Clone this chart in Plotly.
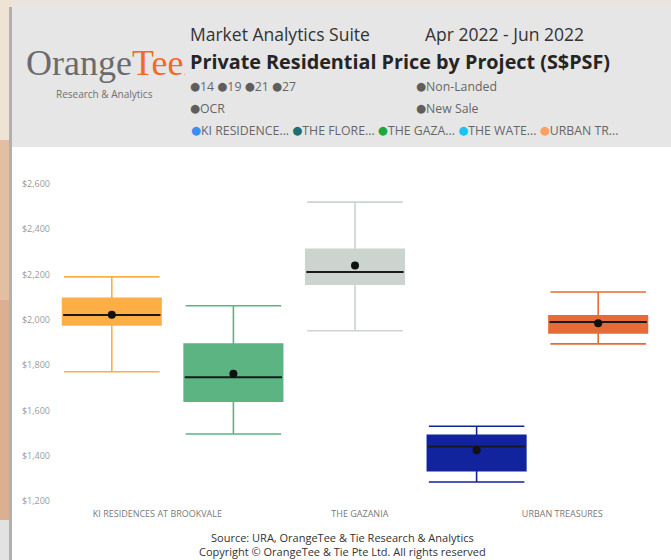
import plotly.graph_objects as go

# --- data (S$ psf) ---
PROJECTS = [
    "KI RESIDENCES AT BROOKVALE",
    "THE FLORENCE RESIDENCES",
    "THE GAZANIA",
    "THE WATERGARDENS AT CANBERRA",
    "URBAN TREASURES",
]
LOWER = [1771, 1496, 1952, 1284, 1894]
Q1 = [1977, 1641, 2158, 1334, 1942]
MEDIAN = [2021, 1747, 2211, 1441, 1990]
Q3 = [2095, 1893, 2312, 1490, 2018]
UPPER = [2190, 2062, 2520, 1530, 2123]
MEAN = [2023, 1762, 2240, 1424, 1985]

BOX_COLORS = ["#FDAE45", "#5CB483", "#CBD4CF", "#12239E", "#E66C37"]

# axis labels shown under the plot (Power BI skips every other one)
XTICK_POS = [0.375, 2.04, 3.705]
XTICK_TEXT = ["KI RESIDENCES AT BROOKVALE", "THE GAZANIA", "URBAN TREASURES"]
Y_TICKS = [1200, 1400, 1600, 1800, 2000, 2200, 2400, 2600]
Y_TICK_TEXT = [f"${v:,}" for v in Y_TICKS]

LEGEND_NAMES = ["KI RESIDENCE...", "THE FLORE...", "THE GAZA...", "THE WATE...", "URBAN TR..."]
LEGEND_COLORS = ["#3A8DF2", "#1A7072", "#1AAA3C", "#14C4F5", "#FFA15E"]

FONT = "Open Sans, Noto Sans, sans-serif"

# --- page geometry (pixels) ---
W, H = 671, 560
L, R, T, B = 51, 659, 184, 501


def px(x):
    return (x - L) / (R - L)


def py(y):
    return (B - y) / (B - T)


fig = go.Figure()

for i, name in enumerate(PROJECTS):
    c = BOX_COLORS[i]
    fig.add_trace(go.Box(
        x=[i], q1=[Q1[i]], median=[MEDIAN[i]], q3=[Q3[i]],
        lowerfence=[LOWER[i]], upperfence=[UPPER[i]],
        name=name, fillcolor=c, line=dict(color=c, width=1.6),
        width=0.81, whiskerwidth=0.97, boxpoints=False, showlegend=False,
    ))
    # black median bar drawn as a flat box on top
    fig.add_trace(go.Box(
        x=[i], q1=[MEDIAN[i]], median=[MEDIAN[i]], q3=[MEDIAN[i]],
        lowerfence=[MEDIAN[i]], upperfence=[MEDIAN[i]],
        fillcolor="rgba(0,0,0,0)", line=dict(color="#1a1a1a", width=2),
        width=0.80, whiskerwidth=0, boxpoints=False, showlegend=False,
        hoverinfo="skip",
    ))

fig.add_trace(go.Scatter(
    x=list(range(len(PROJECTS))), y=MEAN, mode="markers",
    marker=dict(color="#111111", size=8), showlegend=False,
    hovertemplate="Mean $%{y:,.0f}<extra></extra>",
))


def rect(x0, x1, y0, y1, color):
    fig.add_shape(
        type="rect", xref="paper", yref="paper",
        x0=px(x0), x1=px(x1), y0=py(y1), y1=py(y0),
        fillcolor=color, line=dict(width=0), layer="below",
    )


# blurred backdrop left and top
rect(0, 12, 0, 140, "#EFE3D6")
rect(0, 12, 140, 300, "#E3BFA2")
rect(0, 12, 300, 520, "#DBB090")
rect(0, 12, 520, 560, "#E2E2E2")
rect(12, 671, 0, 7, "#E9E4DE")
rect(9, 12, 7, 560, "#B0B0B0")
# header band
rect(12, 671, 7, 147, "#E6E6E6")

ann = []


def text(x, y, s, size, color="#333333", anchor="left", family=FONT):
    ann.append(dict(
        x=px(x), y=py(y), xref="paper", yref="paper", text=s, showarrow=False,
        xanchor=anchor, yanchor="middle", font=dict(size=size, color=color, family=family),
    ))


# logo
text(24, 63, "Orange<span style='color:#F26B22'>Tee</span><span style='color:#F26B22;font-size:9px'>.</span>",
     36, color="#6A6B6E", family="Liberation Serif, DejaVu Serif, serif")
text(104, 94, "Research &amp; Analytics", 10, color="#707070", anchor="center")

# header texts
text(188, 34, "Market Analytics Suite", 17.5, color="#333333")
text(423, 34, "Apr 2022 - Jun 2022", 17.5, color="#333333")
text(188, 62, "<b>Private Residential Price by Project (S$PSF)</b>", 19.8, color="#252525")


def dot(c="#5E5E5E"):
    return (f"<span style=\"color:{c};font-family:'DejaVu Sans';font-size:11.5px;"
            f"baseline-shift:1.5px\">●</span>")


text(188, 87, f"{dot()}14 {dot()}19 {dot()}21 {dot()}27", 12.3, color="#666666")
text(414, 87, f"{dot()}Non-Landed", 12.3, color="#666666")
text(188, 109, f"{dot()}OCR", 12.3, color="#666666")
text(414, 109, f"{dot()}New Sale", 12.3, color="#666666")

legend_row = " ".join(f"{dot(c)}{n}" for n, c in zip(LEGEND_NAMES, LEGEND_COLORS))
text(189, 130, legend_row, 12.3, color="#666666")

# footer
text(342, 537, "Source: URA, OrangeTee &amp; Tie Research &amp; Analytics", 11, color="#333333", anchor="center")
text(342, 551, "Copyright © OrangeTee &amp; Tie Pte Ltd. All rights reserved", 11, color="#333333", anchor="center")

fig.update_layout(
    width=W, height=H,
    margin=dict(l=L, r=W - R, t=T, b=H - B, pad=0),
    paper_bgcolor="white", plot_bgcolor="white",
    boxmode="overlay",
    font=dict(family=FONT),
    annotations=ann,
    hovermode="closest",
)
fig.update_xaxes(
    range=[-0.5, 4.5], tickvals=XTICK_POS, ticktext=XTICK_TEXT,
    showgrid=False, zeroline=False, showline=False, ticks="",
    ticklabelstandoff=6,
    tickfont=dict(size=9, color="#7A7A7A"),
)
fig.update_yaxes(
    range=[1200, 2600], tickvals=Y_TICKS, ticktext=Y_TICK_TEXT,
    showgrid=False, zeroline=False, showline=False, ticks="",
    tickfont=dict(size=9, color="#9A9A9A"),
)

fig.write_html(
    "out.html",
    config={"displayModeBar": False},
    post_script="document.body.style.margin='0';",
)
